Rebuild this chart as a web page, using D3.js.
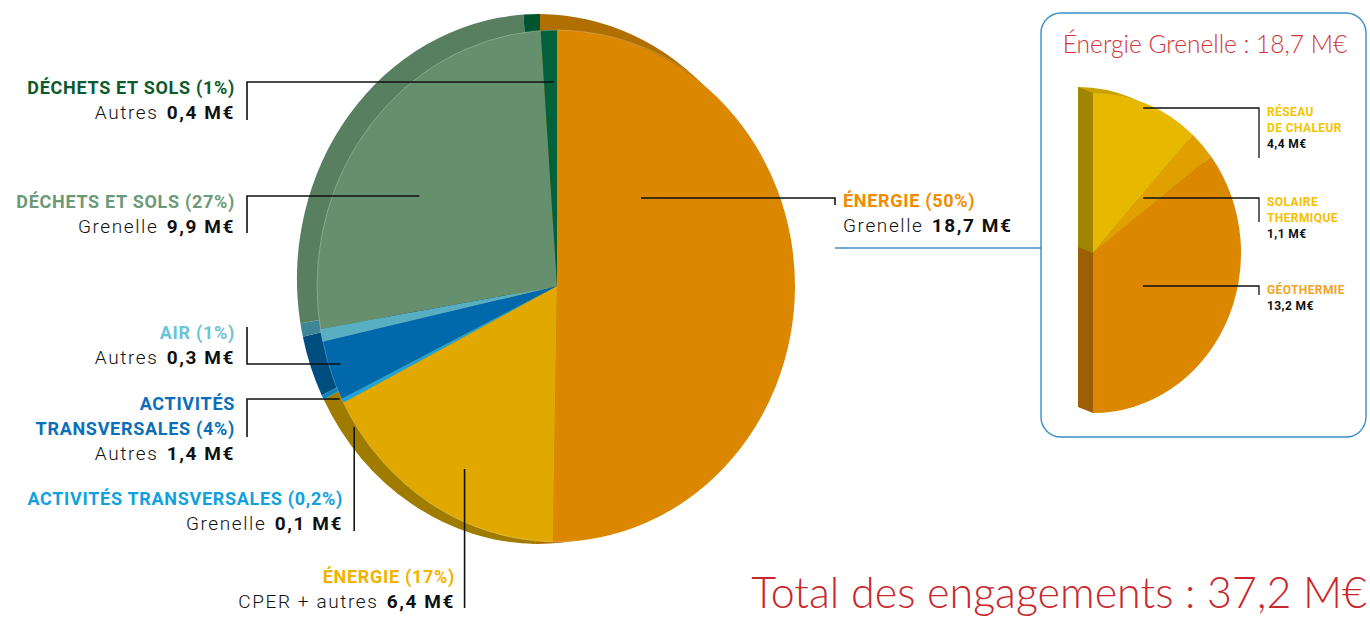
<!DOCTYPE html>
<html>
<head>
<meta charset="utf-8">
<script src="https://cdn.jsdelivr.net/npm/d3@7"></script>
<style>
body { margin: 0; background: #fff; }
svg { display: block; font-family: Roboto, "DejaVu Sans", sans-serif; }
</style>
</head>
<body>
<svg id="chart" width="1370" height="619"></svg>
<script>
// main pie, clockwise from 12 o'clock
const categories = [
    ['ÉNERGIE (50%)'],
    ['ÉNERGIE (17%)'],
    ['ACTIVITÉS TRANSVERSALES (0,2%)'],
    ['ACTIVITÉS', 'TRANSVERSALES (4%)'],
    ['AIR (1%)'],
    ['DÉCHETS ET SOLS (27%)'],
    ['DÉCHETS ET SOLS (1%)']
];
const sources = ['Grenelle', 'CPER + autres', 'Grenelle', 'Autres', 'Autres', 'Grenelle', 'Autres'];
const values = [18.7, 6.4, 0.1, 1.4, 0.3, 9.9, 0.4];

// detail of "Énergie Grenelle"
const subCategories = [['RÉSEAU', 'DE CHALEUR'], ['SOLAIRE', 'THERMIQUE'], ['GÉOTHERMIE']];
const subValues = [4.4, 1.1, 13.2];

const panelTitle = 'Énergie Grenelle : 18,7 M€';
const totalTitle = 'Total des engagements : 37,2 M€';

const faceColors = ['#db8700', '#e1a900', '#1aa5e1', '#0068ab', '#58afc2', '#658f6d', '#00613a'];
const sideColors = ['#b06f00', '#9f7b00', '#0d86b9', '#004e80', '#3e8696', '#587f60', '#005530'];
const labelColors = ['#ef8c00', '#f0b300', '#12a1dd', '#0a6fb8', '#6cc3d5', '#6b9a78', '#0d5a2c'];

const subFace = ['#e6b800', '#e0a000', '#db8700'];
const subSide = ['#c9a200', '#c08a00', '#b06f00'];
const subCut = ['#a08600', '#a07000', '#9b5f06'];
const subLabel = ['#f5c400', '#f5c000', '#f0a428'];

const locale = d3.formatLocale({decimal: ',', thousands: ' ', grouping: [3], currency: ['', '']});
const fmt = v => locale.format('.1f')(v) + ' M€';

const svg = d3.select('#chart');
const pie = d3.pie().sort(null).value(d => d);
const unitArc = d3.arc().innerRadius(0).outerRadius(1);

/* MAIN PIE */
const face = {cx: 557, cy: 286, rx: 240, ry: 256};
const side = {cx: 540, cy: 279, rx: 243, ry: 265};
const arcs = pie(values);

svg.append('g')
    .attr('transform', `translate(${side.cx},${side.cy}) scale(${side.rx},${side.ry})`)
    .selectAll('path')
    .data(arcs).join('path')
    .attr('d', unitArc)
    .attr('fill', (d, i) => sideColors[i]);

svg.append('g')
    .attr('transform', `translate(${face.cx},${face.cy}) scale(${face.rx},${face.ry})`)
    .selectAll('path')
    .data(arcs).join('path')
    .attr('d', unitArc)
    .attr('fill', (d, i) => faceColors[i]);

svg.append('ellipse')
    .attr('cx', face.cx).attr('cy', face.cy)
    .attr('rx', face.rx).attr('ry', face.ry)
    .attr('fill', 'none')
    .attr('stroke', 'rgba(255,255,255,0.3)')
    .attr('stroke-width', 0.8);

const midX = (a, r) => face.cx + face.rx * r * Math.sin((a.startAngle + a.endAngle) / 2);

// leaders: horizontal or vertical run into the slice, then an elbow
const leaders = [
    {i: 0, r: 0.35, path: x => `M${x},198 H835 V205`},
    {i: 1, r: 0.728, path: x => `M${x},469 V608`},
    {i: 2, r: 0.945, path: x => `M${x},427 V531`},
    {i: 3, r: 0.96, path: x => `M${x},399 H247 V437`},
    {i: 4, r: 0.92, path: x => `M${x},364 H247 V327`},
    {i: 5, r: 0.73, path: x => `M${x},196 H247 V233`},
    {i: 6, r: 0.4, path: x => `M${x},82 H247 V120`}
];

svg.append('g')
    .selectAll('path')
    .data(leaders).join('path')
    .attr('d', d => d.path(midX(arcs[d.i], d.r)))
    .attr('fill', 'none')
    .attr('stroke', '#111')
    .attr('stroke-width', 1.6);

svg.append('line')
    .attr('x1', 835).attr('x2', 1041)
    .attr('y1', 248).attr('y2', 248)
    .attr('stroke', '#3a8ec8')
    .attr('stroke-width', 1.4);

const labelPos = [
    {x: 843, y: 207, anchor: 'start'},
    {x: 455, y: 583, anchor: 'end'},
    {x: 343, y: 505, anchor: 'end'},
    {x: 235, y: 410, anchor: 'end'},
    {x: 235, y: 339, anchor: 'end'},
    {x: 235, y: 208, anchor: 'end'},
    {x: 235, y: 94, anchor: 'end'}
];

const labels = svg.append('g')
    .selectAll('g')
    .data(values).join('g')
    .attr('transform', (d, i) => `translate(${labelPos[i].x},${labelPos[i].y})`)
    .attr('text-anchor', (d, i) => labelPos[i].anchor);

labels.each(function (d, i) {
    const g = d3.select(this);
    categories[i].forEach((line, k) => {
        g.append('text')
            .attr('y', k * 24.5)
            .attr('fill', labelColors[i])
            .style('font-size', '18px')
            .style('letter-spacing', '0.7px')
            .style('font-weight', 700)
            .text(line);
    });
    const t = g.append('text')
        .attr('y', categories[i].length * 24.5 + 0.5)
        .attr('fill', '#111')
        .style('font-size', '19px')
        .style('letter-spacing', '1.6px');
    t.append('tspan').style('font-weight', 300).text(sources[i] + '\u00a0');
    t.append('tspan').attr('dx', 2).style('font-weight', 700).text(fmt(d));
});

/* DETAIL PANEL */
svg.append('rect')
    .attr('x', 1041).attr('y', 13)
    .attr('width', 325).attr('height', 424)
    .attr('rx', 20)
    .attr('fill', '#fff')
    .attr('stroke', '#3a8ec8')
    .attr('stroke-width', 1.4);

svg.append('text')
    .attr('x', 1205).attr('y', 53)
    .attr('text-anchor', 'middle')
    .attr('fill', '#d0353a')
    .style('font-family', 'Lato, sans-serif')
    .style('font-weight', 300)
    .style('font-size', '24.5px')
    .text(panelTitle);

const sFace = {cx: 1093, cy: 253, rx: 148, ry: 160};
const sOff = {dx: -15, dy: -6};
const subArcs = d3.pie().sort(null).value(d => d).startAngle(0).endAngle(Math.PI)(subValues);
const pt = (a, o) => [sFace.cx + o.dx + sFace.rx * Math.sin(a), sFace.cy + o.dy - sFace.ry * Math.cos(a)];
const zero = {dx: 0, dy: 0};

svg.append('g')
    .attr('transform', `translate(${sFace.cx + sOff.dx},${sFace.cy + sOff.dy}) scale(${sFace.rx},${sFace.ry})`)
    .selectAll('path')
    .data(subArcs).join('path')
    .attr('d', unitArc)
    .attr('fill', (d, i) => subSide[i]);

// flat cut faces on the left of the half pie
const cuts = [
    {i: 0, a: subArcs[0].startAngle},
    {i: subArcs.length - 1, a: subArcs[subArcs.length - 1].endAngle}
];
svg.append('g')
    .selectAll('path')
    .data(cuts).join('path')
    .attr('d', d => {
        const p1 = pt(d.a, zero), p2 = pt(d.a, sOff);
        return `M${sFace.cx},${sFace.cy} L${p1} L${p2} L${sFace.cx + sOff.dx},${sFace.cy + sOff.dy} Z`;
    })
    .attr('fill', d => subCut[d.i]);

svg.append('g')
    .attr('transform', `translate(${sFace.cx},${sFace.cy}) scale(${sFace.rx},${sFace.ry})`)
    .selectAll('path')
    .data(subArcs).join('path')
    .attr('d', unitArc)
    .attr('fill', (d, i) => subFace[i]);

const subLeaders = [
    {r: 0.94, y: 108, end: 158},
    {r: 0.46, y: 198, end: 222},
    {r: 0.377, y: 286, end: 295}
];
svg.append('g')
    .selectAll('path')
    .data(subLeaders).join('path')
    .attr('d', (d, i) => {
        const a = subArcs[i];
        const x = sFace.cx + sFace.rx * d.r * Math.sin((a.startAngle + a.endAngle) / 2);
        return `M${x},${d.y} H1259 V${d.end}`;
    })
    .attr('fill', 'none')
    .attr('stroke', '#111')
    .attr('stroke-width', 1.3);

const subLabelY = [116, 206, 294];
const subG = svg.append('g')
    .selectAll('g')
    .data(subValues).join('g')
    .attr('transform', (d, i) => `translate(1267,${subLabelY[i]})`)
    .style('font-size', '12px')
    .style('letter-spacing', '0.4px')
    .style('font-weight', 700);

subG.each(function (d, i) {
    const g = d3.select(this);
    subCategories[i].forEach((line, k) => {
        g.append('text').attr('y', k * 16).attr('fill', subLabel[i]).text(line);
    });
    g.append('text').attr('y', subCategories[i].length * 16).attr('fill', '#111').text(fmt(d));
});

/* TOTAL */
svg.append('text')
    .attr('x', 1367).attr('y', 608)
    .attr('text-anchor', 'end')
    .attr('fill', '#c8282c')
    .style('font-family', 'Lato, sans-serif')
    .style('font-weight', 300)
    .style('font-size', '43px')
    .text(totalTitle);
</script>
</body>
</html>
